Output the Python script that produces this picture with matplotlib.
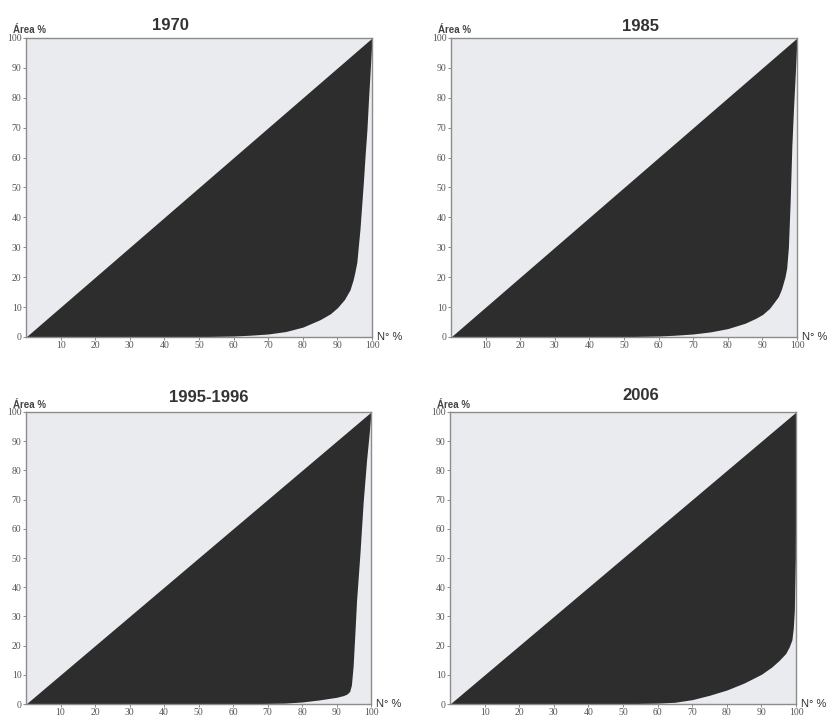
import matplotlib
matplotlib.use('Agg')
import matplotlib.pyplot as plt
import numpy as np

# Lorenz curves: cumulative % of holdings (Nº %) vs cumulative % of area
titles = ['1970', '1985', '1995-1996', '2006']

x_1970 = [0, 50, 60, 65, 70, 75, 80, 85, 88, 90, 92, 93.6, 94.5, 95, 95.6,
          96, 96.5, 97, 97.5, 98, 98.5, 99, 99.5, 100]
y_1970 = [0, 0.1, 0.3, 0.6, 1.0, 1.8, 3.3, 5.8, 7.8, 9.8, 12.5, 15.7, 19,
          21.5, 25, 30, 36, 44, 52, 61, 69, 80, 90, 100]

x_1985 = [0, 50, 60, 65, 70, 75, 80, 85, 88, 90, 92, 93, 94.6, 95.5, 96.5,
          97, 97.5, 98, 98.5, 99, 99.4, 100]
y_1985 = [0, 0.1, 0.3, 0.6, 1.0, 1.7, 2.8, 4.6, 6.2, 7.5, 9.5, 11, 13.5,
          16, 20, 23, 30, 45, 64, 77, 86, 100]

x_1995 = [0, 60, 70, 75, 80, 85, 90, 92, 93, 93.8, 94.3, 94.8, 95.3, 95.8,
          96.8, 97.7, 98.7, 99.4, 100]
y_1995 = [0, 0.05, 0.2, 0.3, 0.7, 1.4, 2.3, 2.9, 3.4, 4.3, 6.5, 13, 24, 35.5,
          52, 69, 83.6, 92, 100]

x_2006 = [0, 50, 60, 65, 70, 75, 80, 85, 90, 93, 95, 97, 98, 98.8, 99.2,
          99.5, 99.8, 100]
y_2006 = [0, 0.1, 0.3, 0.6, 1.5, 3.0, 4.8, 7.2, 10.2, 12.7, 14.8, 17.3, 19.5,
          22, 26, 32, 50, 100]

curves = [(x_1970, y_1970), (x_1985, y_1985), (x_1995, y_1995), (x_2006, y_2006)]

xticks = [10, 20, 30, 40, 50, 60, 70, 80, 90, 100]
yticks = [0, 10, 20, 30, 40, 50, 60, 70, 80, 90, 100]

light = '#e9ebee'
dark = '#2d2d2d'
spine = '#8c8c8c'

# [left, bottom, width, height] in figure fraction
positions = [
    [0.0313, 0.532, 0.4159, 0.4153],
    [0.5421, 0.532, 0.4159, 0.4153],
    [0.0313, 0.0222, 0.4147, 0.4056],
    [0.5409, 0.0222, 0.4159, 0.4056],
]
# title centres (axes fraction)
title_x = [0.417, 0.548, 0.53, 0.55]
title_y = [1.043, 1.038, 1.05, 1.057]

fig = plt.figure(figsize=(8.32, 7.2), dpi=100)

for i, (xs, ys) in enumerate(curves):
    ax = fig.add_axes(positions[i])
    ax.set_facecolor(light)
    xs = np.array(xs, dtype=float)
    ys = np.array(ys, dtype=float)
    ax.fill_between(xs, ys, xs, color=dark, linewidth=0)
    ax.set_xlim(0, 100)
    ax.set_ylim(0, 100)
    ax.set_xticks(xticks)
    ax.set_yticks(yticks)
    ax.tick_params(length=2, width=0.6, color='#777777', pad=1.2,
                   labelsize=7, labelcolor='#555555')
    for lab in ax.get_xticklabels() + ax.get_yticklabels():
        lab.set_family('Liberation Serif')
    for s in ax.spines.values():
        s.set_color(spine)
        s.set_linewidth(1.0)
    ax.text(title_x[i], title_y[i], titles[i], transform=ax.transAxes,
            ha='center', va='center', fontsize=12, fontweight='bold',
            family='Liberation Sans', color='#333333')
    ax.text(-0.037, 1.025, 'Área %', transform=ax.transAxes,
            ha='left', va='center', fontsize=7, fontweight='bold',
            family='Liberation Sans', color='#444444')
    ax.text(1.015, 0.0, 'N° %', transform=ax.transAxes,
            ha='left', va='center', fontsize=8,
            family='Liberation Sans', color='#333333')

fig.savefig('out.png', dpi=100)
